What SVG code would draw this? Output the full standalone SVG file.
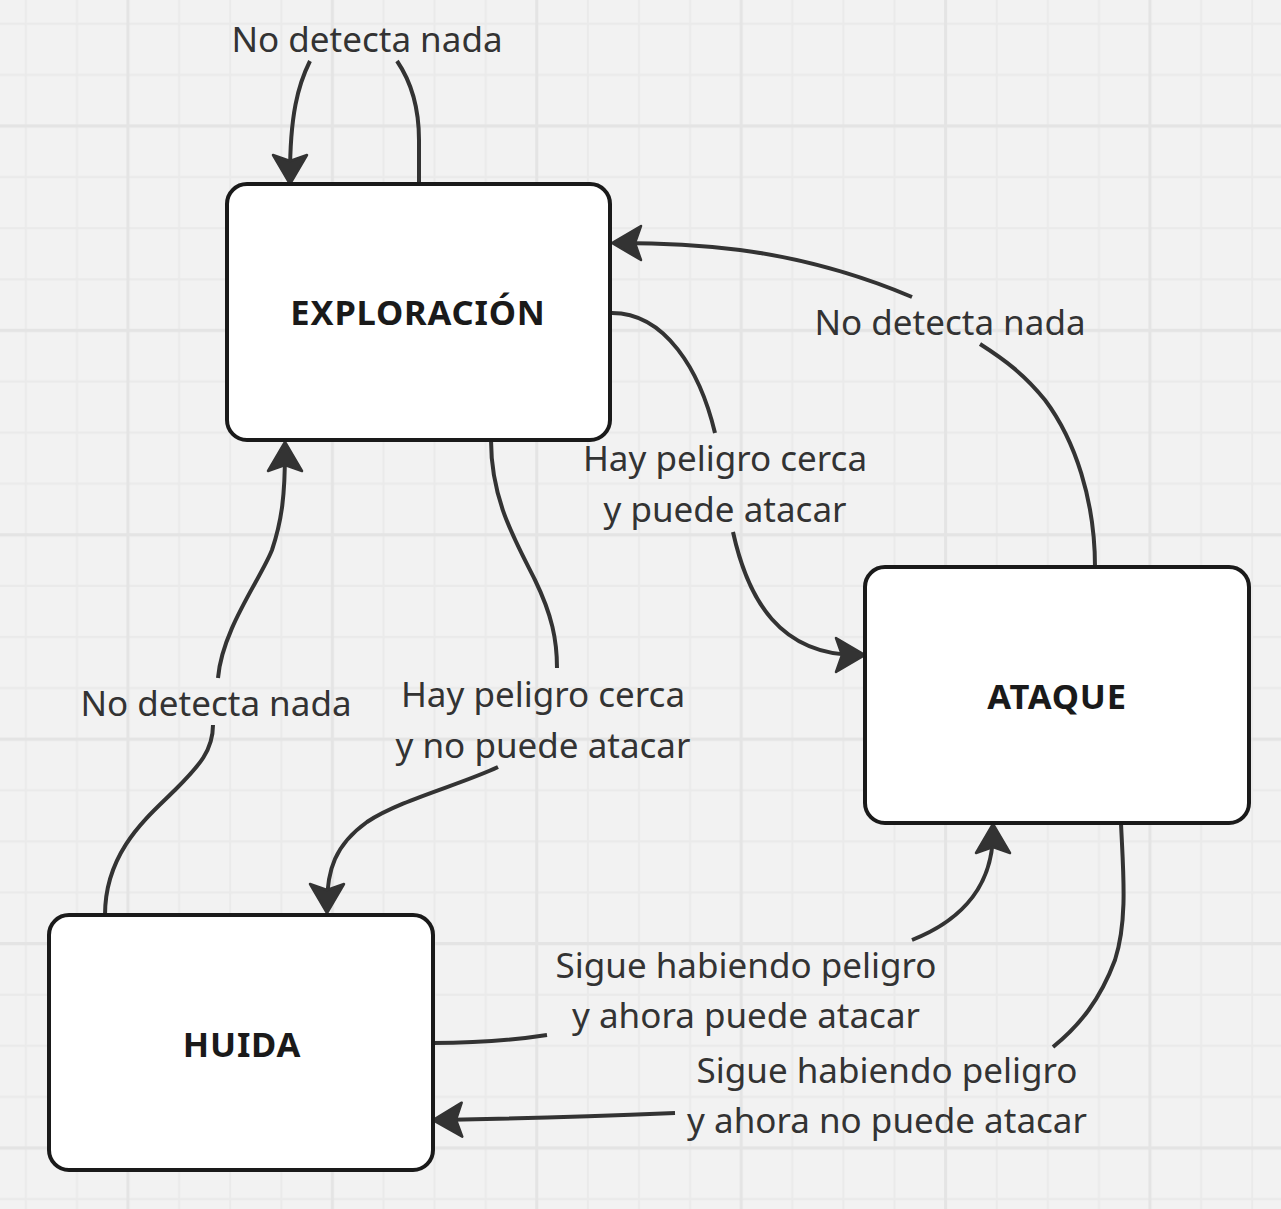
<svg xmlns="http://www.w3.org/2000/svg" width="1281" height="1209" viewBox="0 0 1281 1209">
  <style>
    .node rect { fill: #ffffff; stroke: #1a1a1a; stroke-width: 4; }
    .node text { font-family: "Noto Sans", "Open Sans", sans-serif; font-weight: bold; font-size: 34.5px; letter-spacing: 0.8px; fill: #1a1a1a; text-anchor: middle; }
    .edge path { fill: none; stroke: #333333; stroke-width: 4; stroke-linecap: butt; }
    .edge path.arr { marker-end: url(#arrow); }
    .lbl { font-family: "Noto Sans", "Open Sans", sans-serif; font-size: 35px; fill: #333333; text-anchor: middle; }
  </style>
  <defs>
    <pattern id="grid" patternUnits="userSpaceOnUse" x="102.45" y="100.45" width="204.4" height="204.4">
      <rect width="204.4" height="204.4" fill="#f2f2f2"/>
      <g stroke="#eaeaea" stroke-width="2">
        <line x1="76.65" y1="0" x2="76.65" y2="204.4"/>
        <line x1="127.75" y1="0" x2="127.75" y2="204.4"/>
        <line x1="178.85" y1="0" x2="178.85" y2="204.4"/>
        <line x1="0" y1="76.65" x2="204.4" y2="76.65"/>
        <line x1="0" y1="127.75" x2="204.4" y2="127.75"/>
        <line x1="0" y1="178.85" x2="204.4" y2="178.85"/>
      </g>
      <g stroke="#e4e4e4" stroke-width="3">
        <line x1="25.55" y1="0" x2="25.55" y2="204.4"/>
        <line x1="0" y1="25.55" x2="204.4" y2="25.55"/>
      </g>
    </pattern>
    <marker id="arrow" markerUnits="userSpaceOnUse" orient="auto" overflow="visible" markerWidth="40" markerHeight="40" refX="0" refY="0">
      <path d="M8,0 L-21,-17 L-15,0 L-21,17 Z" fill="#333333" stroke="#333333" stroke-width="2.5" stroke-linejoin="round"/>
    </marker>
  </defs>

  <rect x="0" y="0" width="1281" height="1209" fill="url(#grid)"/>

  <g id="connectors" class="edge">
    <!-- self loop on EXPLORACIÓN -->
    <path d="M419,184 L419,140 C419,105 410,80 397,61"/>
    <path class="arr" d="M310,61 C298,85 290,115 290,176"/>
    <!-- EXPLORACIÓN -> ATAQUE -->
    <path d="M612,313 C665,313 700,370 715,433"/>
    <path class="arr" d="M733,532 C748,600 780,655 857,655"/>
    <!-- ATAQUE -> EXPLORACIÓN -->
    <path d="M1095,567 C1095,500 1075,440 1045,400 C1025,375 1005,360 980,344"/>
    <path class="arr" d="M912,297 C860,275 800,258 740,250 C700,245 660,243 620,243"/>
    <!-- EXPLORACIÓN -> HUIDA -->
    <path d="M491,440 C491,500 515,540 535,580 C552,615 557,640 557,668"/>
    <path class="arr" d="M498,767 C460,785 400,800 367,822 C335,845 327,870 327,905"/>
    <!-- HUIDA -> EXPLORACIÓN -->
    <path d="M105,915 C105,850 150,815 175,790 C200,765 213,750 213,725"/>
    <path class="arr" d="M218,678 C222,630 260,580 272,550 C282,520 285,495 285,450"/>
    <!-- HUIDA -> ATAQUE -->
    <path d="M433,1043 C480,1043 515,1040 547,1035"/>
    <path class="arr" d="M912,940 C950,925 993,895 993,832"/>
    <!-- ATAQUE -> HUIDA -->
    <path d="M1121,823 C1123,870 1128,920 1115,960 C1100,1000 1080,1025 1053,1047"/>
    <path class="arr" d="M675,1113 C600,1116 500,1119 441,1120"/>
  </g>

  <g id="edge-labels">
    <text class="lbl" x="367" y="52">No detecta nada</text>
    <text class="lbl" x="950" y="335">No detecta nada</text>
    <text class="lbl" x="725" y="471">Hay peligro cerca</text>
    <text class="lbl" x="725" y="522">y puede atacar</text>
    <text class="lbl" x="543" y="707">Hay peligro cerca</text>
    <text class="lbl" x="543" y="758">y no puede atacar</text>
    <text class="lbl" x="216" y="716">No detecta nada</text>
    <text class="lbl" x="746" y="978">Sigue habiendo peligro</text>
    <text class="lbl" x="746" y="1028">y ahora puede atacar</text>
    <text class="lbl" x="887" y="1083">Sigue habiendo peligro</text>
    <text class="lbl" x="887" y="1133">y ahora no puede atacar</text>
  </g>

  <g id="node-exploracion" class="node">
    <rect x="227" y="184" width="383" height="256" rx="20" ry="20"/>
    <text x="418" y="325">EXPLORACIÓN</text>
  </g>
  <g id="node-ataque" class="node">
    <rect x="865" y="567" width="384" height="256" rx="20" ry="20"/>
    <text x="1057" y="709">ATAQUE</text>
  </g>
  <g id="node-huida" class="node">
    <rect x="49" y="915" width="384" height="255" rx="20" ry="20"/>
    <text x="242" y="1057">HUIDA</text>
  </g>
</svg>
